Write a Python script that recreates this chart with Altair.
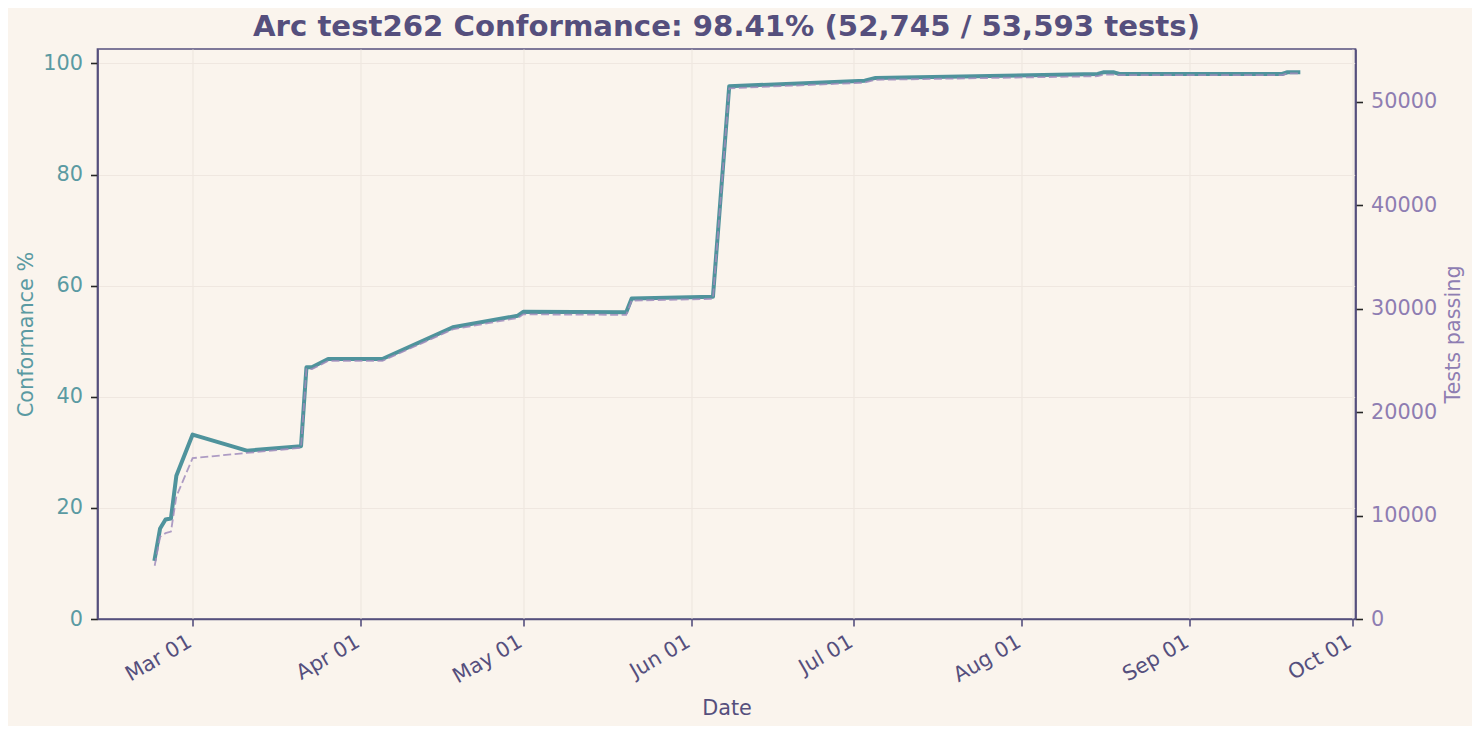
import altair as alt
import pandas as pd

# palette
BG = "#FAF4ED"
TEAL = "#4F939C"
TEAL_TXT = "#5A9AA2"
LAVENDER = "#A08CBC"
PURPLE_TXT = "#8E7DB2"
INK = "#554F7D"
GRID = "#EFE7E0"
TICK = "#262626"

TITLE = "Arc test262 Conformance: 98.41% (52,745 / 53,593 tests)"

dates = [
    "2025-02-22", "2025-02-23", "2025-02-24", "2025-02-25", "2025-02-26",
    "2025-03-01", "2025-03-11", "2025-03-21", "2025-03-22", "2025-03-23",
    "2025-03-26", "2025-04-05", "2025-04-18", "2025-04-30", "2025-05-01",
    "2025-05-20", "2025-05-21", "2025-06-05", "2025-06-08", "2025-07-03",
    "2025-07-05", "2025-08-15", "2025-08-16", "2025-08-18", "2025-08-19",
    "2025-09-18", "2025-09-19", "2025-09-21",
]
conformance = [
    10.8, 16.3, 17.9, 18.1, 25.8,
    33.2, 30.3, 31.1, 45.3, 45.3,
    46.8, 46.8, 52.5, 54.6, 55.3,
    55.2, 57.7, 58.0, 95.9, 96.9,
    97.4, 98.1, 98.4, 98.4, 98.1,
    98.1, 98.41, 98.41,
]
passing = [
    5150, 7950, 8300, 8450, 11850,
    15550, 16050, 16550, 24150, 24150,
    24950, 24950, 28000, 29100, 29450,
    29400, 30780, 30950, 51300, 51850,
    52120, 52470, 52620, 52620, 52580,
    52580, 52745, 52745,
]

month_ticks = [
    "2025-03-01", "2025-04-01", "2025-05-01", "2025-06-01",
    "2025-07-01", "2025-08-01", "2025-09-01", "2025-10-01",
]
pct_ticks = [0, 20, 40, 60, 80, 100]
test_ticks = [0, 10000, 20000, 30000, 40000, 50000]

df = pd.DataFrame(
    {"date": pd.to_datetime(dates, utc=True), "pct": conformance, "tests": passing}
)

# matplotlib-style 5% margin on the time axis
t0, t1 = df["date"].min(), df["date"].max()
pad = (t1 - t0) * 0.05
x_domain = [int((t0 - pad).timestamp() * 1000), int((t1 + pad).timestamp() * 1000)]
month_ms = [int(t.timestamp() * 1000) for t in pd.to_datetime(month_ticks, utc=True)]

x_enc = alt.X(
    "date:T",
    title="Date",
    scale=alt.Scale(type="utc", domain=x_domain, nice=False),
    axis=alt.Axis(
        values=month_ms,
        labelExpr="utcFormat(datum.value, '%b %d')",
        labelAngle=-30,
        labelAlign="right",
        labelBaseline="middle",
        labelPadding=14,
        labelOffset=-3,
        labelColor=INK,
        tickColor=INK,
        titleColor=INK,
        titleY=95,
        titleBaseline="alphabetic",
        grid=True,
    ),
)

solid = (
    alt.Chart(df)
    .mark_line(color=TEAL, strokeWidth=4, strokeJoin="round", strokeCap="square")
    .encode(
        x=x_enc,
        y=alt.Y(
            "pct:Q",
            title="Conformance %",
            scale=alt.Scale(domain=[0, 102.6], nice=False, zero=False),
            axis=alt.Axis(
                orient="left",
                values=pct_ticks,
                labelColor=TEAL_TXT,
                titleColor=TEAL_TXT,
                tickColor=TICK,
                labelPadding=8,
                grid=True,
                titleAngle=270,
                titleX=-65.5,
                titleY=285,
                titleAlign="center",
                titleBaseline="alphabetic",
            ),
        ),
    )
)

dashed = (
    alt.Chart(df)
    .mark_line(color=LAVENDER, strokeWidth=1.8, strokeDash=[8, 3.5], opacity=0.85)
    .encode(
        x="date:T",
        y=alt.Y(
            "tests:Q",
            title="Tests passing",
            scale=alt.Scale(domain=[0, 55100], nice=False, zero=False),
            axis=alt.Axis(
                orient="right",
                values=test_ticks,
                format="d",
                labelColor=PURPLE_TXT,
                titleColor=PURPLE_TXT,
                tickColor=TICK,
                labelPadding=8,
                grid=False,
                titleAngle=270,
                titleX=104,
                titleY=285,
                titleAlign="center",
                titleBaseline="alphabetic",
            ),
        ),
    )
)

chart = (
    alt.layer(solid, dashed)
    .resolve_scale(y="independent")
    .properties(
        width=1258,
        height=570,
        autosize=alt.AutoSizeParams(type="none"),
        padding={"left": 89.5, "top": 41, "right": 116, "bottom": 107},
        title=alt.TitleParams(
            TITLE,
            fontSize=29.2,
            fontWeight="bold",
            color=INK,
            anchor="middle",
            offset=7,
            font="DejaVu Sans",
        ),
    )
    .configure(background=BG, font="DejaVu Sans")
    .configure_view(stroke=INK, strokeWidth=1.7)
    .configure_axis(
        domain=True,
        domainColor=INK,
        domainWidth=1.7,
        gridColor=GRID,
        gridWidth=1.2,
        tickWidth=1.6,
        tickSize=7,
        labelFontSize=20.8,
        titleFontSize=20.8,
        titleFontWeight="normal",
        labelFont="DejaVu Sans",
        titleFont="DejaVu Sans",
    )
)

chart.save("out.html", embed_options={"renderer": "svg", "actions": False})
